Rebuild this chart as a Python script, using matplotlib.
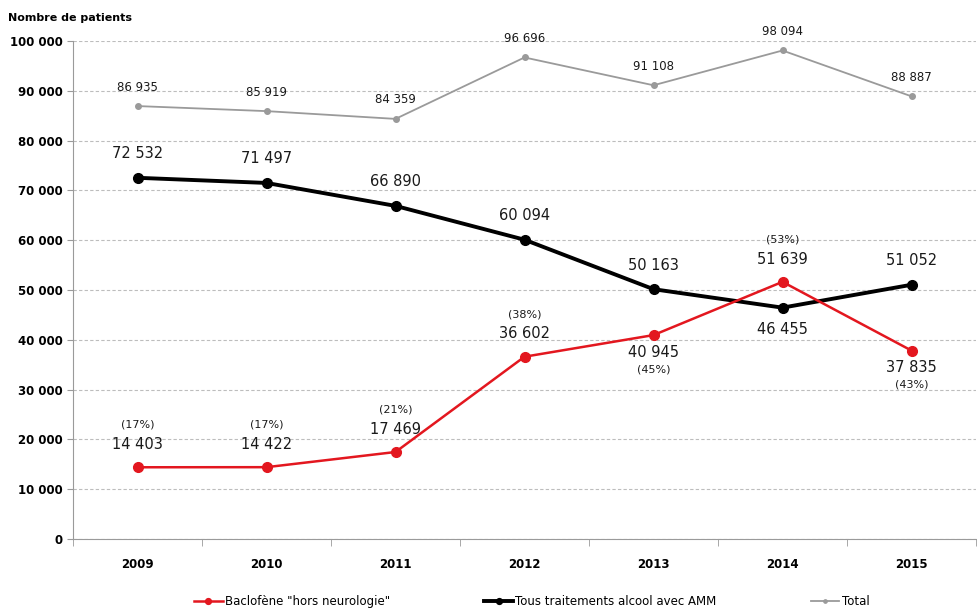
import matplotlib.pyplot as plt
from matplotlib.ticker import FuncFormatter

years = ["2009", "2010", "2011", "2012", "2013", "2014", "2015"]
baclofene = [14403, 14422, 17469, 36602, 40945, 51639, 37835]
baclofene_pct = [17, 17, 21, 38, 45, 53, 43]
traitements = [72532, 71497, 66890, 60094, 50163, 46455, 51052]
total = [86935, 85919, 84359, 96696, 91108, 98094, 88887]

# which labels go under their point instead of above
red_below = [False, False, False, False, True, False, True]
black_below = [False, False, False, False, False, True, False]

RED = "#e3171f"
GREY = "#9a9a9a"
TEXT = "#1a1a1a"


def fr(v):
    return f"{v:,.0f}".replace(",", " ")


plt.rcParams["font.family"] = ["DejaVu Sans"]

fig = plt.figure(figsize=(9.77, 6.09), dpi=100)
ax = fig.add_axes([73 / 977, 1 - 539 / 609, 903 / 977, 498 / 609])

x = list(range(len(years)))

l_tot, = ax.plot(x, total, color=GREY, lw=1.3, marker="o", ms=4, zorder=3, label="Total")
l_trt, = ax.plot(x, traitements, color="black", lw=2.8, marker="o", ms=7, zorder=4,
                 label="Tous traitements alcool avec AMM")
l_bac, = ax.plot(x, baclofene, color=RED, lw=1.8, marker="o", ms=7, zorder=5,
                 label='Baclofène "hors neurologie"')

for i in x:
    ax.annotate(fr(total[i]), (i, total[i]), xytext=(0, 9), textcoords="offset points",
                ha="center", va="bottom", fontsize=8.5, color=TEXT)

    off = -10 if black_below[i] else 12
    ax.annotate(fr(traitements[i]), (i, traitements[i]), xytext=(0, off),
                textcoords="offset points", ha="center",
                va="top" if black_below[i] else "bottom",
                fontsize=10.5, color=TEXT)

    pct = "(%d%%)" % baclofene_pct[i]
    if red_below[i]:
        ax.annotate(fr(baclofene[i]), (i, baclofene[i]), xytext=(0, -7),
                    textcoords="offset points", ha="center", va="top",
                    fontsize=10.5, color=TEXT)
        ax.annotate(pct, (i, baclofene[i]), xytext=(0, -21),
                    textcoords="offset points", ha="center", va="top",
                    fontsize=8, color=TEXT)
    else:
        ax.annotate(fr(baclofene[i]), (i, baclofene[i]), xytext=(0, 11),
                    textcoords="offset points", ha="center", va="bottom",
                    fontsize=10.5, color=TEXT)
        ax.annotate(pct, (i, baclofene[i]), xytext=(0, 27),
                    textcoords="offset points", ha="center", va="bottom",
                    fontsize=8, color=TEXT)

ax.set_ylim(0, 100000)
ax.set_xlim(-0.5, 6.39)
ax.set_yticks(range(0, 100001, 10000))
ax.yaxis.set_major_formatter(FuncFormatter(lambda v, p: fr(v)))
ax.set_xticks(x)
ax.set_xticklabels(years, fontweight="bold")
ax.set_xticks([i - 0.5 for i in range(8)], minor=True)
ax.tick_params(axis="x", which="major", length=0, pad=14, labelsize=8.5)
ax.tick_params(axis="x", which="minor", length=5, color=GREY)
ax.tick_params(axis="y", length=4, color=GREY, labelsize=8.5)
for lab in ax.get_yticklabels():
    lab.set_fontweight("bold")

ax.grid(axis="y", color="#bdbdbd", ls=(0, (3, 2)), lw=0.8)
ax.set_axisbelow(True)
for side in ["top", "right"]:
    ax.spines[side].set_visible(False)
ax.spines["left"].set_color(GREY)
ax.spines["bottom"].set_color(GREY)

fig.text(8 / 977, 1 - 18 / 609, "Nombre de patients", fontsize=8, fontweight="bold",
         va="center", ha="left")

ax.legend(handles=[l_bac, l_trt, l_tot], loc="center", bbox_to_anchor=(0.508, -0.125),
          ncol=3, frameon=False, fontsize=8.5, columnspacing=8, handlelength=2.4,
          handletextpad=0.2, markerscale=0.6)

fig.savefig("out.png", dpi=100)
